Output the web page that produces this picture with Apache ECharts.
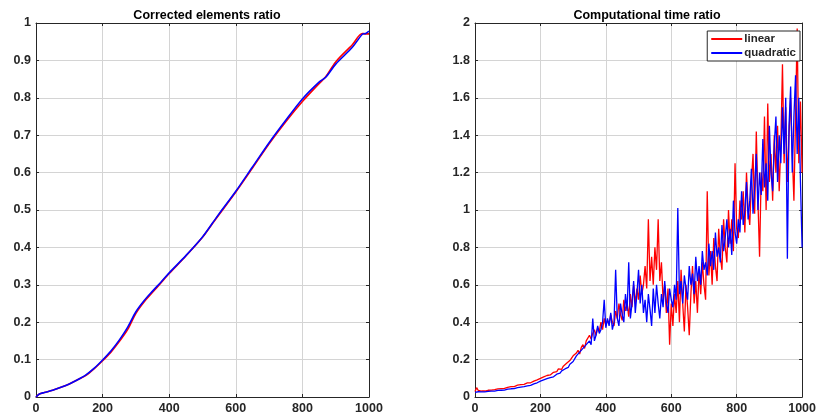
<!DOCTYPE html>
<html>
<head>
<meta charset="utf-8">
<script src="https://cdn.jsdelivr.net/npm/echarts@6/dist/echarts.min.js"></script>
<style>
  html, body { margin: 0; padding: 0; background: #fff; }
  #chart { width: 819px; height: 418px; }
</style>
</head>
<body>
<div id="chart"></div>
<script>
// left panel: corrected elements ratio
const leftX = [0, 10, 25, 50, 75, 100, 125, 150, 175, 200, 225, 250, 275, 300, 325, 350, 375, 400,
  450, 500, 530, 550, 600, 650, 700, 750, 800, 850, 870, 900, 950, 980, 990, 1000];
const leftLinear = [0, 0.008, 0.012, 0.018, 0.026, 0.035, 0.046, 0.058, 0.076, 0.097, 0.12, 0.148, 0.18,
  0.224, 0.255, 0.28, 0.305, 0.33, 0.377, 0.427, 0.464, 0.488, 0.548, 0.612, 0.677, 0.736, 0.79, 0.838,
  0.856, 0.896, 0.942, 0.972, 0.971, 0.971];
const leftQuadratic = [0, 0.008, 0.012, 0.018, 0.026, 0.035, 0.046, 0.059, 0.077, 0.099, 0.123, 0.152, 0.186,
  0.228, 0.258, 0.283, 0.307, 0.332, 0.378, 0.428, 0.465, 0.49, 0.55, 0.615, 0.68, 0.74, 0.797, 0.842,
  0.855, 0.89, 0.935, 0.97, 0.972, 0.978];

// right panel: computational time ratio, sampled every 5 elements
const step = 5;
const timeLinear = [
  0.03, 0.05, 0.035, 0.03, 0.032, 0.033, 0.032, 0.034, 0.036, 0.035, 0.037, 0.04, 0.039, 0.041, 0.043, 0.042, 0.045, 0.047, 0.046, 0.05, 0.052,
  0.053, 0.055, 0.058, 0.056, 0.06, 0.063, 0.061, 0.066, 0.07, 0.068, 0.072, 0.075, 0.078, 0.076, 0.082, 0.085, 0.088, 0.092, 0.096, 0.1,
  0.104, 0.108, 0.106, 0.115, 0.12, 0.118, 0.128, 0.132, 0.14, 0.136, 0.15, 0.155, 0.148, 0.165, 0.17, 0.18, 0.175, 0.195, 0.2, 0.22,
  0.21, 0.235, 0.25, 0.23, 0.265, 0.28, 0.26, 0.3, 0.29, 0.33, 0.31, 0.34, 0.36, 0.33, 0.37, 0.35, 0.4, 0.36, 0.42, 0.38,
  0.41, 0.39, 0.44, 0.4, 0.38, 0.46, 0.42, 0.5, 0.44, 0.41, 0.52, 0.46, 0.5, 0.43, 0.55, 0.48, 0.6, 0.5, 0.58, 0.52,
  0.65, 0.55, 0.6, 0.7, 0.58, 0.95, 0.62, 0.75, 0.6, 0.8, 0.68, 0.95, 0.62, 0.72, 0.52, 0.6, 0.45, 0.58, 0.28, 0.5,
  0.38, 0.55, 0.45, 0.62, 0.4, 0.68, 0.5, 0.35, 0.6, 0.48, 0.33, 0.55, 0.7, 0.5, 0.62, 0.45, 0.68, 0.55, 0.72, 0.6,
  0.52, 1.1, 0.65, 0.78, 0.6, 0.85, 0.7, 0.62, 0.9, 0.75, 0.68, 0.95, 0.8, 0.72, 1.0, 0.82, 0.95, 0.78, 1.25, 0.9,
  0.85, 1.05, 0.95, 1.1, 0.88, 1.2, 1.0, 0.92, 1.15, 1.3, 0.98, 1.42, 1.05, 0.75, 1.2, 1.1, 1.5, 1.0, 1.57, 1.15,
  1.3, 1.05, 1.4, 1.2, 1.45, 1.1, 1.35, 1.78, 1.25, 1.55, 1.15, 1.4, 1.6, 1.3, 1.05, 1.5, 1.97, 1.25, 1.58, 1.2
];
const timeQuadratic = [
  0.025, 0.03, 0.028, 0.026, 0.027, 0.028, 0.027, 0.029, 0.03, 0.029, 0.031, 0.032, 0.031, 0.034, 0.035, 0.034, 0.036, 0.038, 0.037, 0.04, 0.042,
  0.041, 0.044, 0.046, 0.045, 0.048, 0.05, 0.049, 0.053, 0.056, 0.055, 0.058, 0.06, 0.063, 0.062, 0.066, 0.07, 0.072, 0.076, 0.08, 0.085,
  0.088, 0.092, 0.09, 0.098, 0.1, 0.104, 0.11, 0.108, 0.118, 0.122, 0.13, 0.128, 0.14, 0.145, 0.15, 0.16, 0.158, 0.175, 0.18, 0.19,
  0.2, 0.22, 0.21, 0.24, 0.23, 0.26, 0.25, 0.28, 0.27, 0.3, 0.28, 0.42, 0.3, 0.33, 0.38, 0.34, 0.36, 0.4, 0.52, 0.37,
  0.42, 0.38, 0.45, 0.36, 0.4, 0.68, 0.42, 0.38, 0.5, 0.44, 0.4, 0.55, 0.46, 0.72, 0.42, 0.5, 0.62, 0.45, 0.55, 0.68,
  0.5, 0.6, 0.45, 0.52, 0.4, 0.55, 0.47, 0.38, 0.58, 0.45, 0.6, 0.5, 0.42, 0.55, 0.48, 0.62, 0.5, 0.45, 0.58, 0.52,
  0.48, 0.6, 0.52, 1.01, 0.55, 0.62, 0.5, 0.65, 0.58, 0.52, 0.7, 0.6, 0.66, 0.55, 0.75, 0.62, 0.7, 0.6, 0.78, 0.68,
  0.72, 0.65, 0.82, 0.7, 0.78, 0.68, 0.88, 0.75, 0.8, 0.72, 0.92, 0.78, 0.85, 0.95, 0.8, 0.9, 0.76, 1.05, 0.88, 0.82,
  0.95, 0.88, 1.1, 0.92, 1.0, 1.15, 0.95, 1.05, 1.22, 0.98, 1.12, 1.3, 1.0, 1.2, 1.08, 1.38, 1.12, 1.25, 1.05, 1.45,
  1.2, 1.1, 1.35, 1.5, 1.15, 1.4, 1.25, 1.55, 1.3, 1.6, 0.74, 1.45, 1.66, 1.2, 1.5, 1.72, 1.3, 1.6, 1.15, 0.8
];

const titles = ['Corrected elements ratio', 'Computational time ratio'];
const names = ['linear', 'quadratic'];

const font = 'Liberation Sans, Arial, Helvetica, sans-serif';
const axisColor = '#262626';
const gridColor = '#d4d4d4';

const pairs = (xs, ys) => ys.map((v, i) => [xs[i], v]);
const stepped = ys => ys.map((v, i) => [i * step, v]);

const tickLabel = {
  color: axisColor, fontFamily: font, fontSize: 12.5, fontWeight: 'bold', margin: 5,
  formatter: v => String(v),
};

function xAxes(gridIndex) {
  const base = {
    gridIndex, type: 'value', min: 0, max: 1000, interval: 200,
    axisLine: { show: true, onZero: false, lineStyle: { color: axisColor, width: 1 } },
    axisTick: { show: true, inside: true, length: 3, lineStyle: { color: axisColor } },
  };
  return [
    Object.assign({}, base, {
      position: 'bottom',
      splitLine: { show: true, lineStyle: { color: gridColor } },
      axisLabel: tickLabel,
    }),
    Object.assign({}, base, { position: 'top', splitLine: { show: false }, axisLabel: { show: false } }),
  ];
}

function yAxes(gridIndex, max, interval) {
  const base = {
    gridIndex, type: 'value', min: 0, max, interval,
    axisLine: { show: true, onZero: false, lineStyle: { color: axisColor, width: 1 } },
    axisTick: { show: true, inside: true, length: 3, lineStyle: { color: axisColor } },
  };
  return [
    Object.assign({}, base, {
      position: 'left',
      splitLine: { show: true, lineStyle: { color: gridColor } },
      axisLabel: tickLabel,
    }),
    Object.assign({}, base, { position: 'right', splitLine: { show: false }, axisLabel: { show: false } }),
  ];
}

function line(name, data, color, xi, yi, width, smooth) {
  return {
    name, type: 'line', data, xAxisIndex: xi, yAxisIndex: yi, smooth,
    showSymbol: false, symbol: 'none', animation: false,
    lineStyle: { color, width }, itemStyle: { color },
  };
}

const chart = echarts.init(document.getElementById('chart'), null, { renderer: 'canvas' });
chart.setOption({
  backgroundColor: '#fff',
  animation: false,
  title: [
    { text: titles[0], left: 202, top: 4, textAlign: 'center',
      textStyle: { fontFamily: font, fontSize: 12.5, fontWeight: 'bold', color: '#000' } },
    { text: titles[1], left: 642, top: 4, textAlign: 'center',
      textStyle: { fontFamily: font, fontSize: 12.5, fontWeight: 'bold', color: '#000' } },
  ],
  legend: {
    data: names, orient: 'vertical', right: 19, top: 31, icon: 'rect',
    itemWidth: 31, itemHeight: 2, itemGap: 2, padding: [2, 4, 2, 4],
    backgroundColor: '#fff', borderColor: axisColor, borderWidth: 1, borderRadius: 0,
    textStyle: { fontFamily: font, fontSize: 11.5, fontWeight: 'bold', color: axisColor, padding: [0, 0, 0, -3] },
  },
  grid: [
    { left: 36, right: 450, top: 23, bottom: 21 },
    { left: 475, right: 10, top: 23, bottom: 21 },
  ],
  xAxis: xAxes(0).concat(xAxes(1)),
  yAxis: yAxes(0, 1, 0.1).concat(yAxes(1, 2, 0.2)),
  series: [
    line('left linear', pairs(leftX, leftLinear), '#ff0000', 0, 0, 1.6, 0.3),
    line('left quadratic', pairs(leftX, leftQuadratic), '#0000ff', 0, 0, 1.6, 0.3),
    line(names[0], stepped(timeLinear), '#ff0000', 2, 2, 1.3, false),
    line(names[1], stepped(timeQuadratic), '#0000ff', 2, 2, 1.3, false),
  ],
});
</script>
</body>
</html>
